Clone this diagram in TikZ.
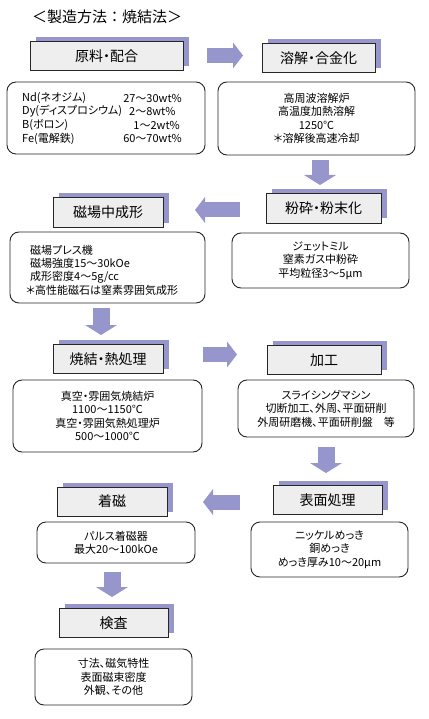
\documentclass[tikz,border=0pt]{standalone}
\usepackage{fontspec}
\setmainfont{Noto Sans CJK JP}[RawFeature=+palt]
\newfontfamily\cjkfw{Noto Sans CJK JP}
\usetikzlibrary{arrows.meta,shadows}
\definecolor{lav}{RGB}{150,150,204}
\definecolor{hdrgray}{RGB}{238,238,238}
\tikzset{
  hdr/.style={draw=black!85, line width=1pt, fill=hdrgray, minimum height=29pt,
    inner sep=0pt, font=\fontsize{14}{16}\selectfont,
    general shadow={fill=lav, shadow xshift=6pt, shadow yshift=4.5pt}},
  cbox/.style={draw=black!85, line width=0.9pt, rounded corners=9pt, inner sep=0pt,
    align=center, font=\fontsize{11}{13.4}\selectfont},
  ctext/.style={inner sep=0pt, font=\fontsize{11}{13.4}\selectfont},
  harrow/.style={draw=lav, line width=15pt, -{Triangle[width=26pt,length=10pt,line width=0pt]}},
  varrow/.style={draw=lav, line width=17pt, -{Triangle[width=32pt,length=10pt,line width=0pt]}}
}
\begin{document}
\begin{tikzpicture}[x=1pt,y=-1pt]
\useasboundingbox (0,0) rectangle (428,719);
% title
\node[inner sep=0pt, font=\cjkfw\fontsize{15}{17}\selectfont] (title) at (107,17) {＜製造方法：焼結法＞};
% headers
\node[hdr, minimum width=153pt] (h1) at (106.5,56.5) {原料・配合};
\node[hdr, minimum width=113pt] (h2) at (318.5,58) {溶解・合金化};
\node[hdr, minimum width=115pt] (h3) at (323.5,208.5) {粉砕・粉末化};
\node[hdr, minimum width=110pt] (h4) at (108,212.5) {磁場中成形};
\node[hdr, minimum width=110pt] (h5) at (108,359) {焼結・熱処理};
\node[hdr, minimum width=114pt] (h6) at (324,360) {加工};
\node[hdr, minimum width=109pt] (h7) at (327.5,500) {表面処理};
\node[hdr, minimum width=110pt] (h8) at (112,501.5) {着磁};
\node[hdr, minimum width=109pt] (h9) at (113.5,623) {検査};
% content boxes
\node[cbox, minimum width=198pt, minimum height=72pt] (c1) at (106,118) {};
\node[ctext, anchor=west] (c1a) at (22,98) {Nd(ネオジム)};
\node[ctext, anchor=west] (c1b) at (22,111.5) {Dy(ディスプロシウム)};
\node[ctext, anchor=west] (c1c) at (22,125) {B(ボロン)};
\node[ctext, anchor=west] (c1d) at (22,138.5) {Fe(電解鉄)};
\node[ctext, anchor=east] (c1e) at (182,98) {27～30wt\%};
\node[ctext, anchor=west] (c1f) at (129,111.5) {2～8wt\%};
\node[ctext, anchor=east] (c1g) at (180,125) {1～2wt\%};
\node[ctext, anchor=east] (c1h) at (182,138.5) {60～70wt\%};

\node[cbox, minimum width=197pt, minimum height=73pt] (c2) at (316.5,118.5)
  {高周波溶解炉\\高温度加熱溶解\\1250℃\\＊溶解後高速冷却};
\node[cbox, minimum width=177pt, minimum height=55pt] (c3) at (320.5,260.5)
  {ジェットミル\\窒素ガス中粉砕\\平均粒径3～5μm};
\node[cbox, minimum width=195pt, minimum height=71pt] (c4) at (107.5,267.5) {};
\node[ctext, anchor=west, align=left] (c4t) at (26,270)
  {\hspace*{4pt}磁場プレス機\\\hspace*{4pt}磁場強度15～30kOe\\\hspace*{4pt}成形密度4～5g/cc\\＊高性能磁石は窒素雰囲気成形};
\node[cbox, minimum width=189pt, minimum height=72pt] (c5) at (107.5,416)
  {真空・雰囲気焼結炉\\1100～1150℃\\真空・雰囲気熱処理炉\\500～1000℃};
\node[cbox, minimum width=176pt, minimum height=57pt] (c6) at (326,408.5)
  {スライシングマシン\\切断加工、外周、平面研削\\外周研磨機、平面研削盤　等};
\node[cbox, minimum width=157pt, minimum height=55pt] (c7) at (329.5,549.5)
  {ニッケルめっき\\銅めっき\\めっき厚み10～20μm};
\node[cbox, minimum width=158pt, minimum height=41pt] (c8) at (116,542.5)
  {パルス着磁器\\最大20～100kOe};
\node[cbox, minimum width=157pt, minimum height=56pt] (c9) at (113.5,677)
  {寸法、磁気特性\\表面磁束密度\\外観、その他};
% arrows
\coordinate (a1s) at (207,55.5);  \coordinate (a1e) at (243,55.5);
\coordinate (a2s) at (320,160);   \coordinate (a2e) at (320,185);
\coordinate (a3s) at (240,210);   \coordinate (a3e) at (195,210);
\coordinate (a4s) at (101,308);   \coordinate (a4e) at (101,335);
\coordinate (a5s) at (203,354.5); \coordinate (a5e) at (237,354.5);
\coordinate (a6s) at (326,447);   \coordinate (a6e) at (326,473);
\coordinate (a7s) at (240,502);   \coordinate (a7e) at (203,502);
\coordinate (a8s) at (112,572);   \coordinate (a8e) at (112,597);
\draw[harrow] (a1s) -- (a1e);
\draw[varrow] (a2s) -- (a2e);
\draw[harrow] (a3s) -- (a3e);
\draw[varrow] (a4s) -- (a4e);
\draw[harrow] (a5s) -- (a5e);
\draw[varrow] (a6s) -- (a6e);
\draw[harrow] (a7s) -- (a7e);
\draw[varrow] (a8s) -- (a8e);
\end{tikzpicture}
\end{document}
